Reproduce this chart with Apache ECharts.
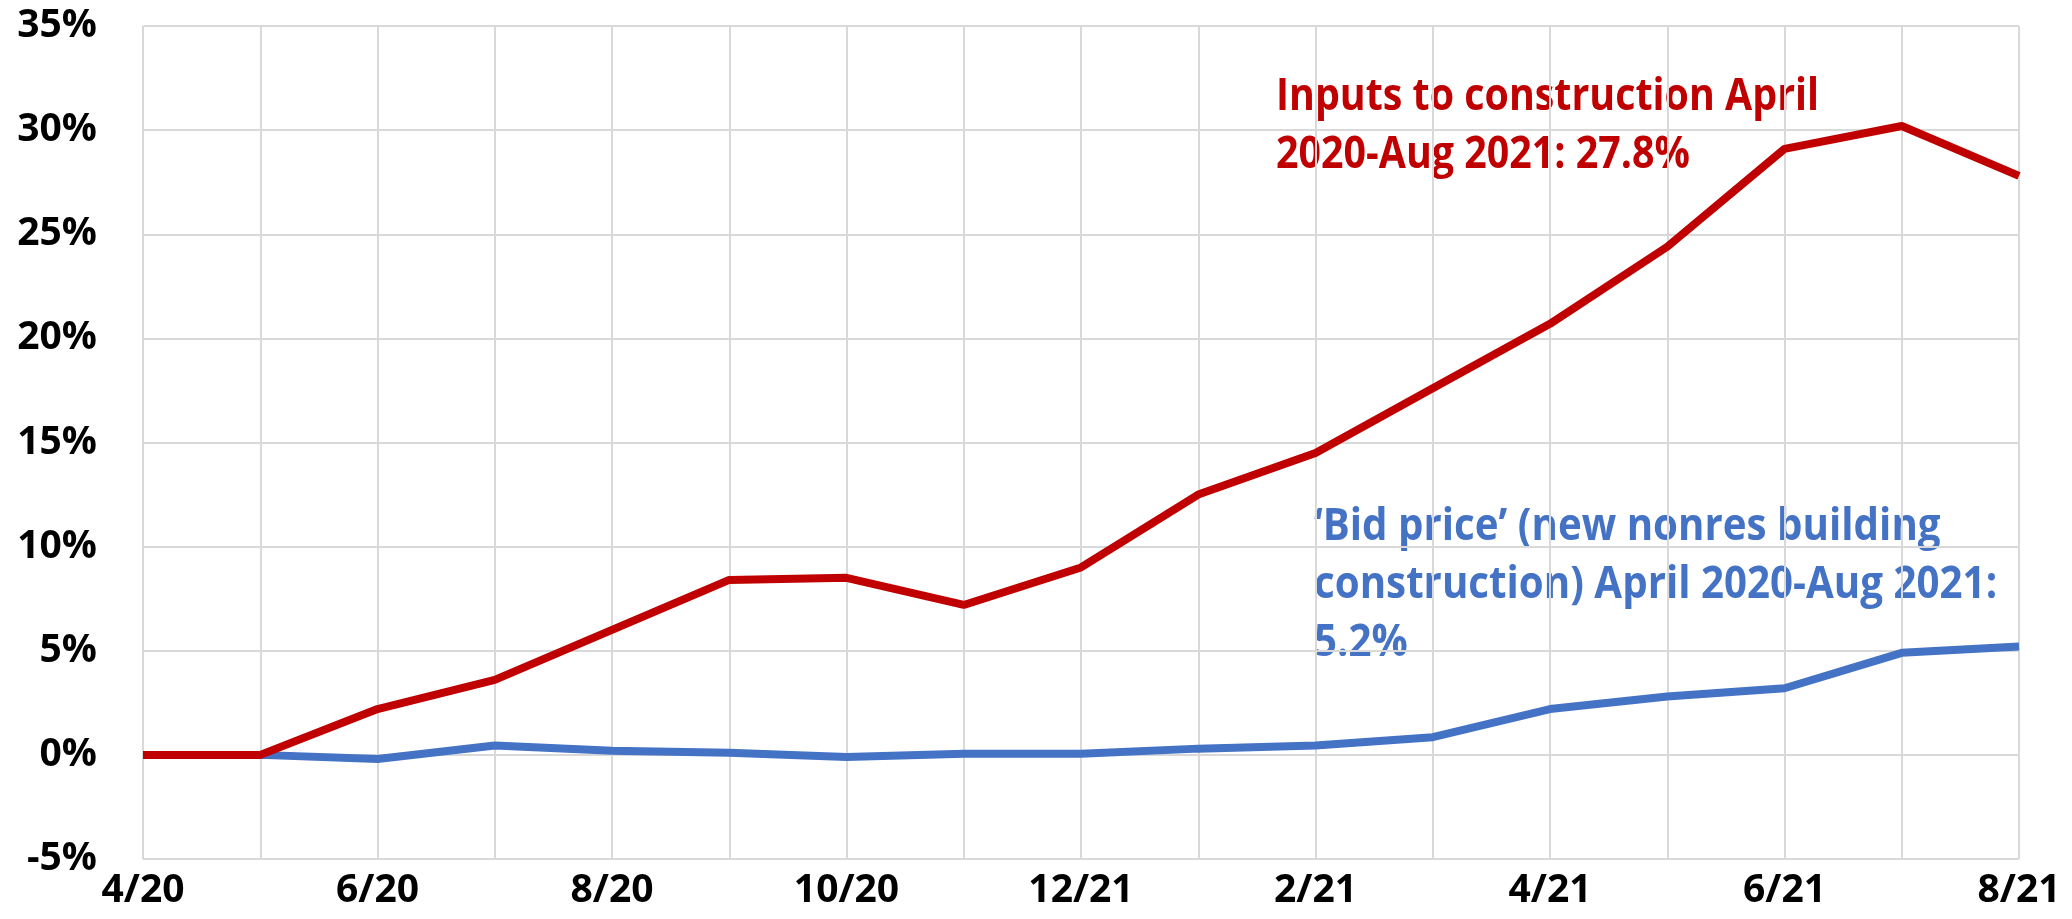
<!DOCTYPE html>
<html>
<head>
<meta charset="utf-8">
<script src="https://cdn.jsdelivr.net/npm/echarts@6/dist/echarts.min.js"></script>
<style>
  html, body { margin: 0; padding: 0; background: #fff; }
  #chart { width: 2072px; height: 919px; }
</style>
</head>
<body>
<div id="chart"></div>
<script>
const months = ['4/20', '5/20', '6/20', '7/20', '8/20', '9/20', '10/20', '11/20', '12/21',
  '1/21', '2/21', '3/21', '4/21', '5/21', '6/21', '7/21', '8/21'];
const inputsPct = [0, 0, 2.2, 3.6, 6.0, 8.4, 8.5, 7.2, 9.0, 12.5, 14.5, 17.6, 20.7, 24.4, 29.1, 30.2, 27.8];
const bidPct = [0, 0, -0.2, 0.45, 0.2, 0.1, -0.1, 0.05, 0.05, 0.3, 0.45, 0.85, 2.2, 2.8, 3.2, 4.9, 5.2];
const inputsNote = 'Inputs to construction April\n2020-Aug 2021: 27.8%';
const bidNote = '\u2018Bid price\u2019 (new nonres building\nconstruction) April 2020-Aug 2021:\n5.2%';

const FONT = '"Open Sans", sans-serif';

const myChart = echarts.init(document.getElementById('chart'));

const option = {
  animation: false,
  grid: { left: 143, right: 53, top: 26, bottom: 60 },
  xAxis: {
    type: 'category',
    data: months,
    boundaryGap: false,
    axisLine: { show: true, lineStyle: { color: '#d9d9d9', width: 2 } },
    axisTick: { show: false },
    axisLabel: {
      interval: 1,
      color: '#000',
      fontFamily: FONT,
      fontWeight: 'bold',
      fontSize: 39,
      margin: 12
    },
    splitLine: { show: true, interval: 0, lineStyle: { color: '#d9d9d9', width: 2 } }
  },
  yAxis: {
    type: 'value',
    min: -5,
    max: 35,
    interval: 5,
    axisLine: { show: false },
    axisTick: { show: false },
    axisLabel: {
      formatter: '{value}%',
      color: '#000',
      fontFamily: FONT,
      fontWeight: 'bold',
      fontSize: 39,
      margin: 46
    },
    splitLine: { lineStyle: { color: '#d9d9d9', width: 2 } }
  },
  series: [
    {
      name: 'Bid price',
      type: 'line',
      data: bidPct,
      symbol: 'none',
      lineStyle: { color: '#4472C4', width: 8 },
      z: 2
    },
    {
      name: 'Inputs to construction',
      type: 'line',
      data: inputsPct,
      symbol: 'none',
      lineStyle: { color: '#C00000', width: 8 },
      z: 3
    }
  ],
  // annotations: wide-ish font squeezed a bit to look like the narrow original
  graphic: [
    {
      type: 'text',
      x: 1276,
      y: 68,
      scaleX: 0.875,
      style: {
        text: inputsNote,
        fill: '#C00000',
        font: 'bold 45px ' + FONT,
        lineHeight: 58,
        verticalAlign: 'top'
      }
    },
    {
      type: 'text',
      x: 1314,
      y: 498,
      scaleX: 0.895,
      style: {
        text: bidNote,
        fill: '#4472C4',
        font: 'bold 45px ' + FONT,
        lineHeight: 58,
        verticalAlign: 'top'
      }
    }
  ]
};

myChart.setOption(option);
</script>
</body>
</html>
